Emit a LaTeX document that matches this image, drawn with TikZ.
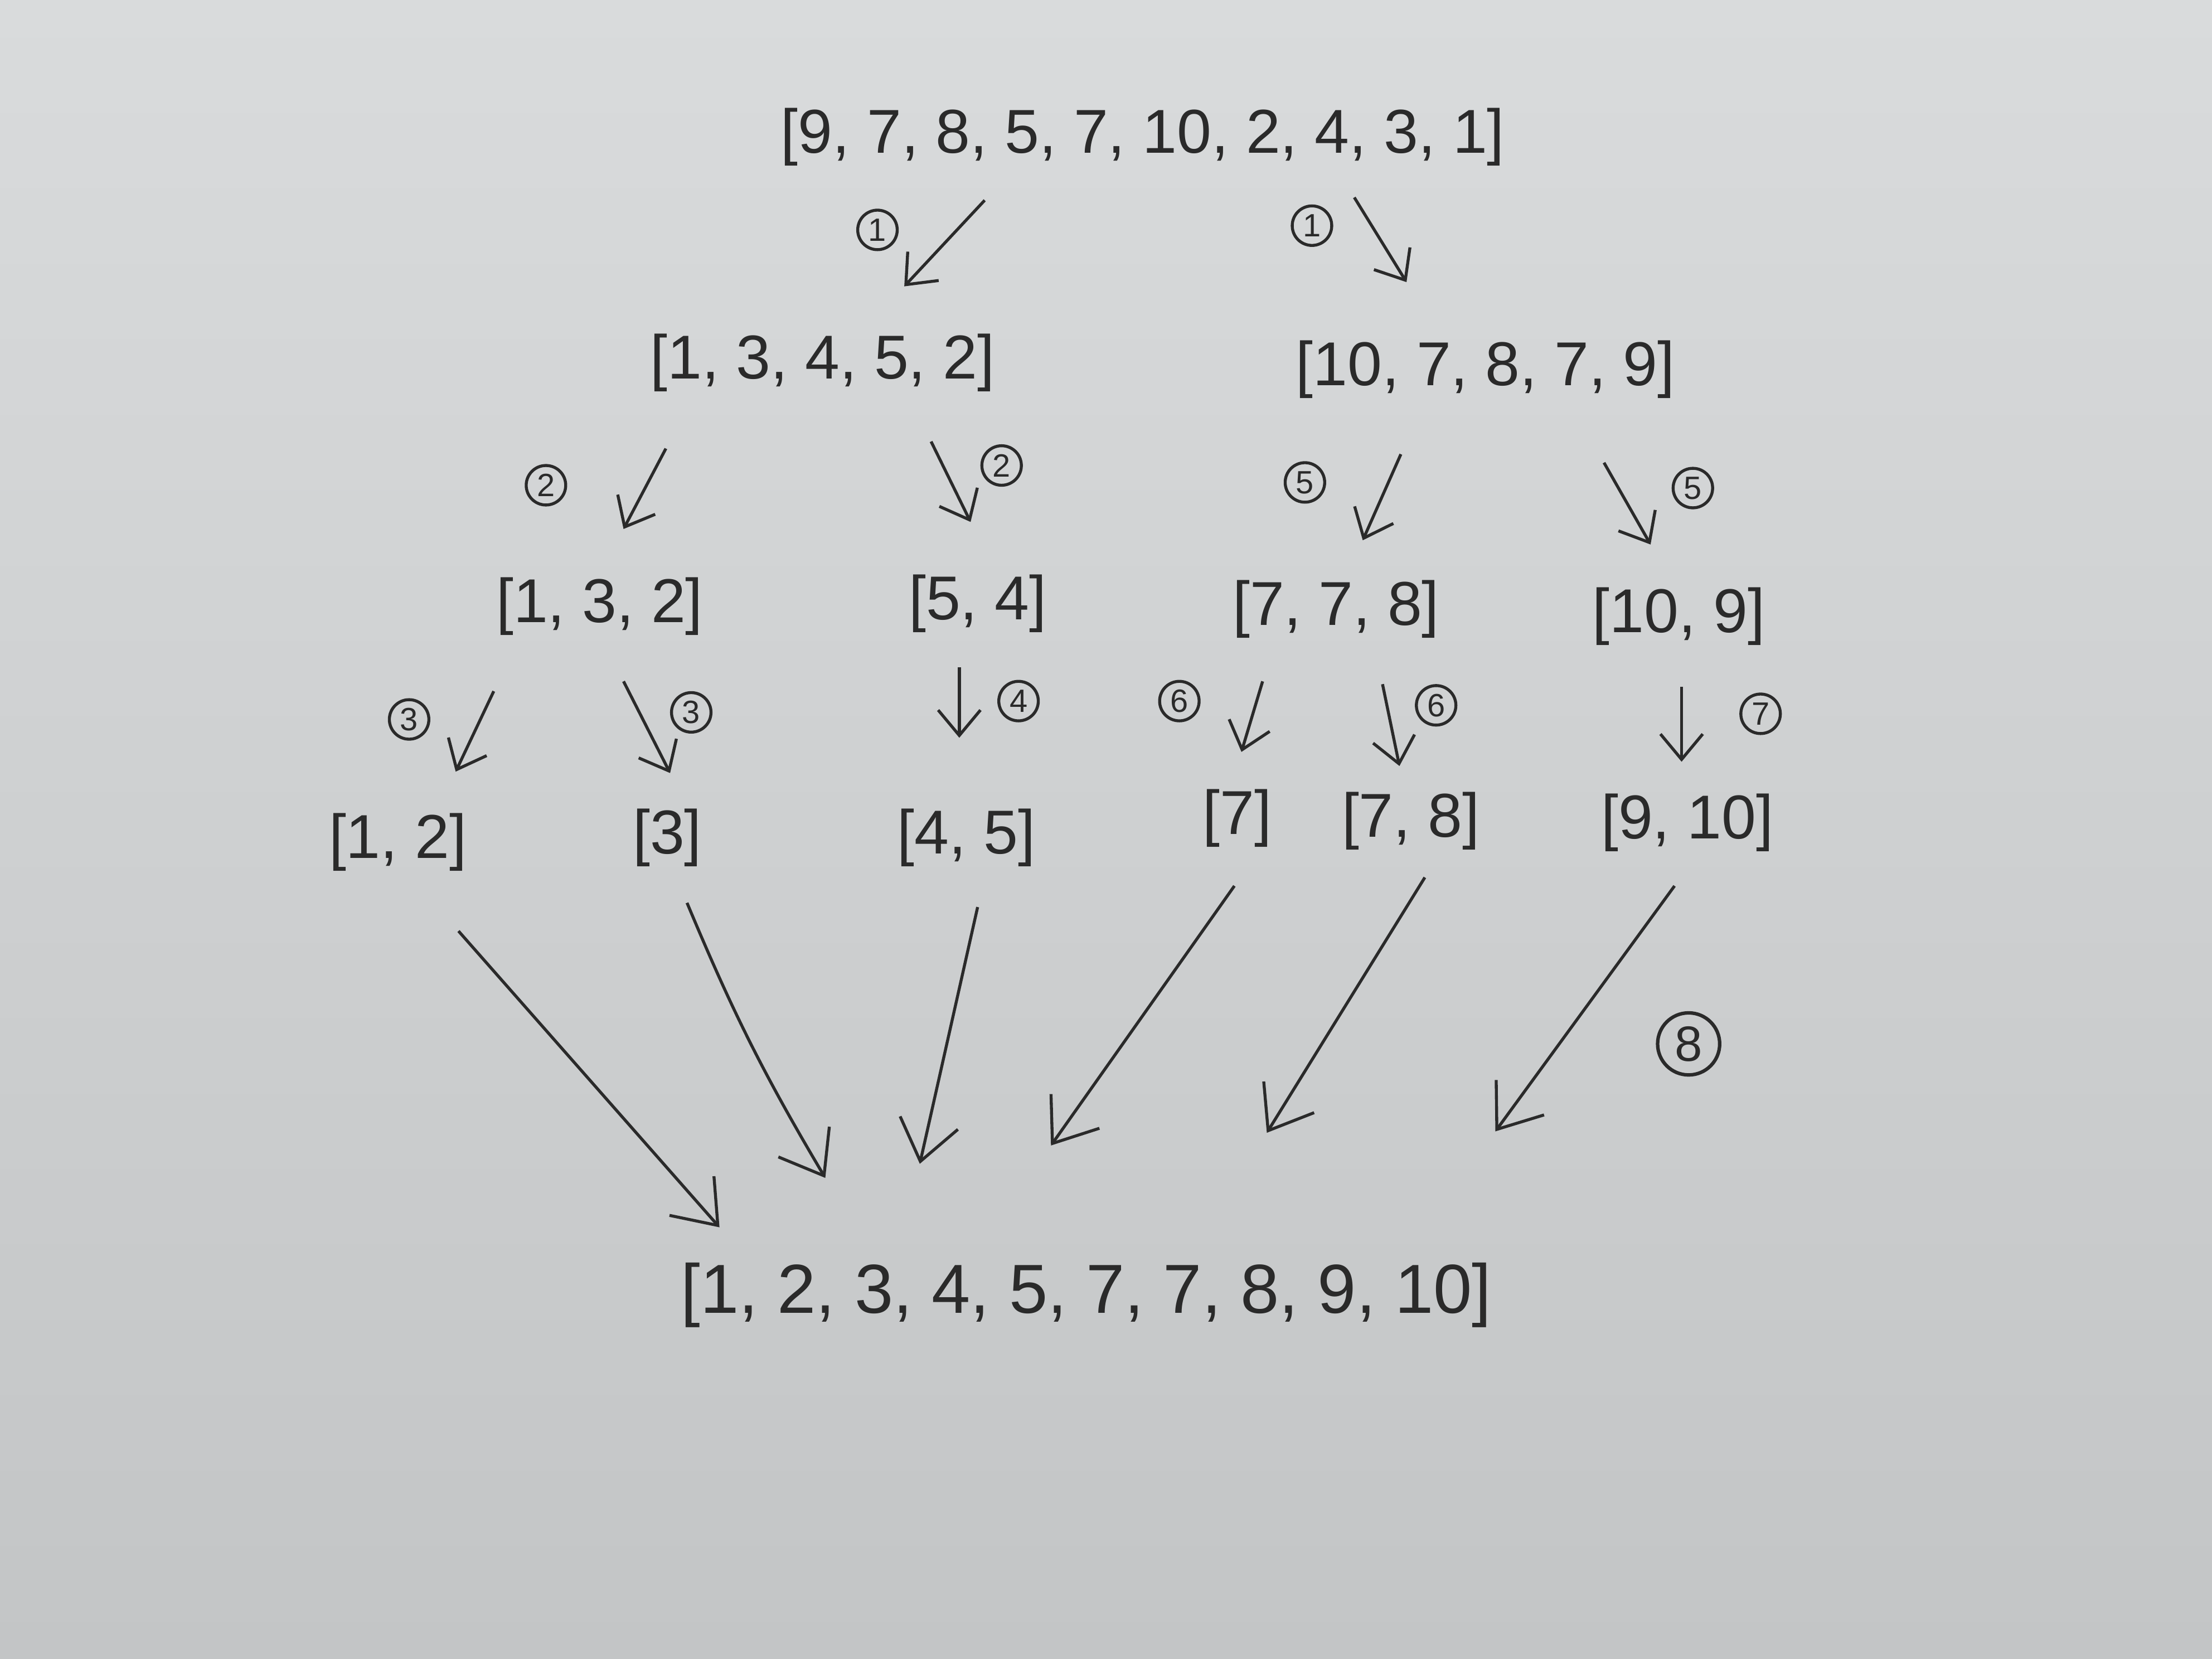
\documentclass[tikz,border=0pt]{standalone}
\usepackage{fontspec}
\setmainfont{Liberation Sans}
\usetikzlibrary{arrows.meta}
\definecolor{ink}{HTML}{2A2A2A}
\definecolor{papertop}{HTML}{D9DBDC}
\definecolor{paperbot}{HTML}{C3C5C6}
\tikzset{
  lst/.style={text=ink, font=\fontsize{12.5}{14}\selectfont, inner sep=1pt},
  bigl/.style={text=ink, font=\fontsize{14}{16}\selectfont, inner sep=1pt},
  num/.style={circle, draw=ink, line width=0.6pt, text=ink, minimum size=0.28cm, inner sep=0pt, font=\fontsize{6.5}{7}\selectfont},
  bignum/.style={circle, draw=ink, line width=0.7pt, text=ink, minimum size=0.44cm, inner sep=0pt, font=\fontsize{10}{11}\selectfont},
  arr/.style={draw=ink, line width=0.6pt, -{Straight Barb[length=1.8mm,width=3mm]}},
  longarr/.style={draw=ink, line width=0.6pt, -{Straight Barb[length=2.8mm,width=4.2mm]}}
}
\begin{document}
\begin{tikzpicture}
\shade[top color=papertop, bottom color=paperbot] (0,0) rectangle (15.68,11.76);
\useasboundingbox (0,0) rectangle (15.68,11.76);

% list nodes
\node[lst] (top) at (8.10,10.79) {[9, 7, 8, 5, 7, 10, 2, 4, 3, 1]};
\node[lst] (l1a) at (5.83,9.19) {[1, 3, 4, 5, 2]};
\node[lst] (l1b) at (10.53,9.14) {[10, 7, 8, 7, 9]};
\node[lst] (l2a) at (4.25,7.46) {[1, 3, 2]};
\node[lst] (l2b) at (6.93,7.48) {[5, 4]};
\node[lst] (l2c) at (9.47,7.44) {[7, 7, 8]};
\node[lst] (l2d) at (11.90,7.39) {[10, 9]};
\node[lst] (l3a) at (2.82,5.79) {[1, 2]};
\node[lst] (l3b) at (4.73,5.82) {[3]};
\node[lst] (l3c) at (6.85,5.82) {[4, 5]};
\node[lst] (l3d) at (8.77,5.96) {[7]};
\node[lst] (l3e) at (10.00,5.94) {[7, 8]};
\node[lst] (l3f) at (11.96,5.93) {[9, 10]};
\node[bigl] (res) at (7.70,2.58) {[1, 2, 3, 4, 5, 7, 7, 8, 9, 10]};

% step numbers
\node[num] (c1a) at (6.22,10.13) {1};
\node[num] (c1b) at (9.30,10.16) {1};
\node[num] (c2a) at (3.87,8.32) {2};
\node[num] (c2b) at (7.10,8.46) {2};
\node[num] (c5a) at (9.25,8.34) {5};
\node[num] (c5b) at (12.00,8.30) {5};
\node[num] (c3a) at (2.90,6.66) {3};
\node[num] (c3b) at (4.90,6.71) {3};
\node[num] (c4) at (7.22,6.79) {4};
\node[num] (c6a) at (8.36,6.79) {6};
\node[num] (c6b) at (10.18,6.76) {6};
\node[num] (c7) at (12.48,6.70) {7};
\node[bignum] (c8) at (11.97,4.36) {8};

% arrow end points
\coordinate (a1s) at (6.98,10.34); \coordinate (a1e) at (6.41,9.73);
\coordinate (a2s) at (9.60,10.36); \coordinate (a2e) at (9.97,9.76);
\coordinate (a3s) at (4.72,8.58);  \coordinate (a3e) at (4.42,8.01);
\coordinate (a4s) at (6.60,8.63);  \coordinate (a4e) at (6.88,8.06);
\coordinate (a5s) at (9.93,8.54);  \coordinate (a5e) at (9.66,7.93);
\coordinate (a6s) at (11.37,8.48); \coordinate (a6e) at (11.70,7.90);
\coordinate (a7s) at (3.50,6.86);  \coordinate (a7e) at (3.23,6.29);
\coordinate (a8s) at (4.42,6.93);  \coordinate (a8e) at (4.75,6.28);
\coordinate (a9s) at (6.80,7.03);  \coordinate (a9e) at (6.80,6.53);
\coordinate (a10s) at (8.95,6.93); \coordinate (a10e) at (8.80,6.43);
\coordinate (a11s) at (9.80,6.91); \coordinate (a11e) at (9.92,6.33);
\coordinate (a12s) at (11.92,6.89); \coordinate (a12e) at (11.92,6.36);

\coordinate (b1s) at (3.25,5.16);  \coordinate (b1e) at (5.10,3.06);
\coordinate (b2s) at (4.87,5.36);  \coordinate (b2e) at (5.85,3.41);
\coordinate (b3s) at (6.93,5.33);  \coordinate (b3e) at (6.52,3.51);
\coordinate (b4s) at (8.75,5.48);  \coordinate (b4e) at (7.45,3.64);
\coordinate (b5s) at (10.10,5.54); \coordinate (b5e) at (8.98,3.73);
\coordinate (b6s) at (11.87,5.48); \coordinate (b6e) at (10.60,3.74);

% split arrows
\draw[arr] (a1s) -- (a1e);
\draw[arr] (a2s) -- (a2e);
\draw[arr] (a3s) -- (a3e);
\draw[arr] (a4s) -- (a4e);
\draw[arr] (a5s) -- (a5e);
\draw[arr] (a6s) -- (a6e);
\draw[arr] (a7s) -- (a7e);
\draw[arr] (a8s) -- (a8e);
\draw[arr] (a9s) -- (a9e);
\draw[arr] (a10s) -- (a10e);
\draw[arr] (a11s) -- (a11e);
\draw[arr] (a12s) -- (a12e);

% merge arrows
\draw[longarr] (b1s) -- (b1e);
\draw[longarr] (b2s) to[bend right=4] (b2e);
\draw[longarr] (b3s) -- (b3e);
\draw[longarr] (b4s) -- (b4e);
\draw[longarr] (b5s) -- (b5e);
\draw[longarr] (b6s) -- (b6e);
\end{tikzpicture}
\end{document}
